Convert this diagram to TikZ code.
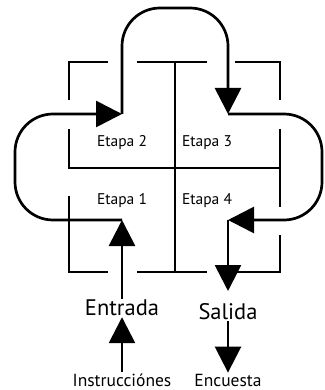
\documentclass[tikz,border=0pt]{standalone}
\usepackage{fontspec}
\setmainfont{PT Sans}
\usetikzlibrary{arrows.meta}
\tikzset{
	frame/.style={line width=2pt},
	loop/.style={line width=2.7pt, rounded corners=38pt},
	arr/.style={line width=2.7pt, -{Triangle[length=26pt,width=26pt]}},
	stage/.style={font=\fontsize{15.5}{18}\selectfont, inner sep=0pt},
	big/.style={font=\fontsize{22.5}{26}\selectfont, inner sep=1pt},
	small/.style={font=\fontsize{17.5}{20}\selectfont, inner sep=1pt}
}
\begin{document}
\begin{tikzpicture}[x=1pt,y=-1pt]
		\useasboundingbox (0,0) rectangle (324,390);
		
		\draw[frame] (69,100) -- (69,62) -- (108,62);
		\draw[frame] (137,62) -- (207,62);
		\draw[frame] (235,62) -- (280,62) -- (280,100);
		\draw[frame] (175,62) -- (175,272);
		\draw[frame] (69,129) -- (69,168) -- (280,168);
		\draw[frame] (280,129) -- (280,207);
		\draw[frame] (108,272) -- (69,272) -- (69,196);
		\draw[frame] (137,272) -- (207,272);
		\draw[frame] (235,272) -- (280,272) -- (280,235);
		
		\node[stage] (e2) at (122,143) {Etapa 2};
		\node[stage] (e3) at (207,143) {Etapa 3};
		\node[stage] (e1) at (122,201) {Etapa 1};
		\node[stage] (e4) at (207,201) {Etapa 4};
		\node[big] (ent) at (122,308) {Entrada};
		\node[big] (sal) at (228,312) {Salida};
		\node[small] (ins) at (122,380) {Instrucciónes};
		\node[small] (enc) at (228,380) {Encuesta};
		
		\coordinate (p1) at (122,220);
		\coordinate (p2) at (122,114);
		\coordinate (p3) at (228,114);
		\coordinate (p4) at (228,220);
		\coordinate (out) at (228,291);
		
		\draw[arr] (ent.north) -- (p1);
		\draw[loop] (p1) -- (15,220) -- (15,114) -- ([xshift=-10pt]p2);
		\draw[arr] ([xshift=-12pt]p2) -- (p2);
		\draw[loop] (p2) -- (122,8) -- (228,8) -- ([yshift=10pt]p3);
		\draw[arr] ([yshift=12pt]p3) -- (p3);
		\draw[loop] (p3) -- (322,114) -- (322,220) -- ([xshift=10pt]p4);
		\draw[arr] ([xshift=12pt]p4) -- (p4);
		\draw[arr] (p4) -- (out);
		\draw[arr] (ins.north) -- (ent.south);
		\draw[arr] (sal.south) -- (enc.north);
\end{tikzpicture}
\end{document}
